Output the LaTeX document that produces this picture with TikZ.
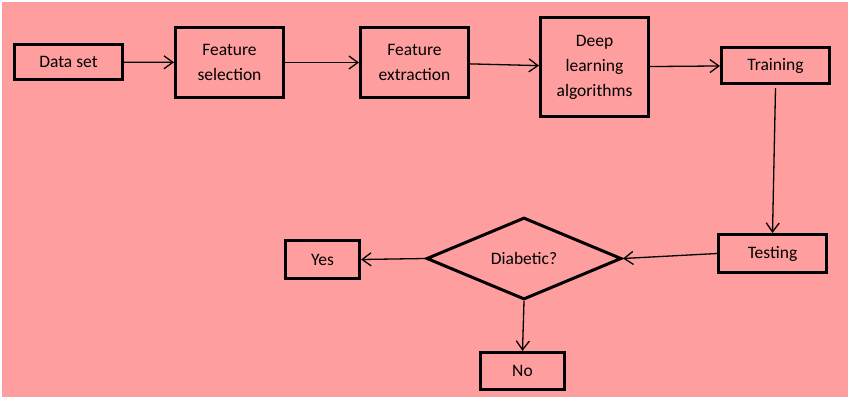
\documentclass[tikz,border=0pt]{standalone}
\usepackage{fontspec}
\setmainfont{Carlito}
\usetikzlibrary{shapes.geometric,arrows.meta}
\definecolor{bg}{RGB}{255,158,158}
\begin{document}
\begin{tikzpicture}[x=1pt,y=-1pt,
 box/.style={draw,line width=3pt,align=center,inner sep=0pt,font=\fontsize{17.5}{25}\selectfont},
 arr/.style={line width=1.3pt,-{Straight Barb[length=9pt,width=13pt]}}]
\useasboundingbox (0,0) rectangle (850,400);
\fill[white] (0,0) rectangle (850,400);
\fill[bg] (2,2) rectangle (848,397);
\node[box,minimum width=108pt,minimum height=35pt] (ds) at (68.5,62) {Data set};
\node[box,minimum width=108pt,minimum height=70pt] (fs) at (229.5,62.5) {Feature\\selection};
\node[box,minimum width=108pt,minimum height=70pt] (fe) at (414.5,62.5) {Feature\\extraction};
\node[box,minimum width=108pt,minimum height=99pt] (dl) at (594.5,67) {Deep\\learning\\algorithms};
\node[box,minimum width=108pt,minimum height=36pt] (tr) at (775.5,65.5) {Training};
\node[box,minimum width=108pt,minimum height=38pt] (te) at (772.5,253.5) {Testing};
\node[box,diamond,minimum width=195pt,minimum height=82pt] (dia) at (524,258.5) {Diabetic?};
\node[box,minimum width=74pt,minimum height=38pt] (yes) at (322.5,259.5) {Yes};
\node[box,minimum width=84pt,minimum height=37pt] (no) at (522.5,371) {No};
\draw[arr] (ds) -- (fs);
\draw[arr] (fs) -- (fe);
\draw[arr] (fe) -- (dl);
\draw[arr] (dl) -- (tr);
\draw[arr] ([yshift=-3pt]tr.south) -- (te.north);
\draw[arr] (te.west) -- (dia.east);
\draw[arr] (dia.west) -- (yes.east);
\draw[arr] (dia.south) -- (no.north);
\end{tikzpicture}
\end{document}
